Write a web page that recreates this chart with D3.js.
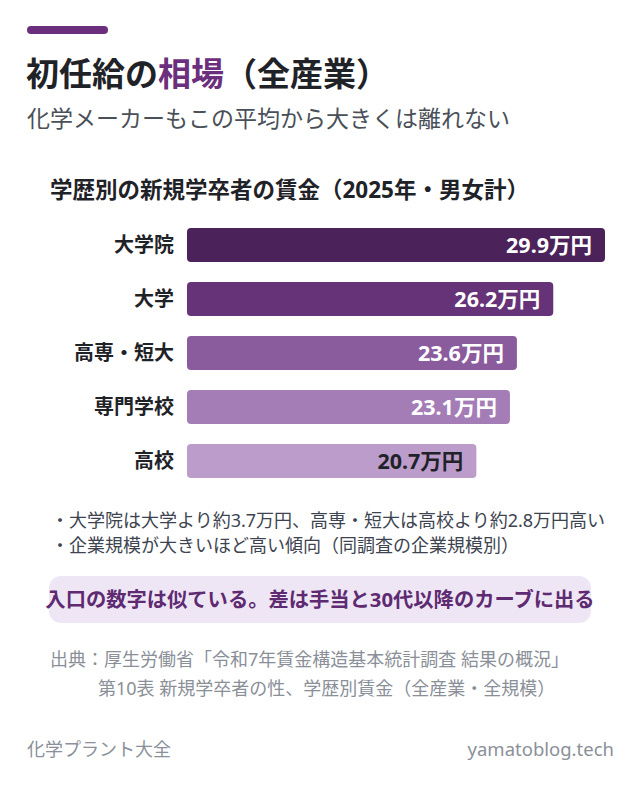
<!DOCTYPE html>
<html>
<head>
<meta charset="utf-8">
<script src="https://cdn.jsdelivr.net/npm/d3@7"></script>
<style>
  body { margin: 0; background: #fff; }
  svg { display: block; font-family: "Noto Sans", "Noto Sans CJK JP", sans-serif; }
</style>
</head>
<body>
<div id="chart-area"></div>
<script>
// data
const categories = ["大学院", "大学", "高専・短大", "専門学校", "高校"]
const wages = [29.9, 26.2, 23.6, 23.1, 20.7]
const barColors = ["#4b2259", "#673378", "#8a5c9e", "#a47db7", "#bc9ccb"]
const notes = [
    "・大学院は大学より約3.7万円、高専・短大は高校より約2.8万円高い",
    "・企業規模が大きいほど高い傾向（同調査の企業規模別）"
]
const sourceLines = [
    "出典：厚生労働省「令和7年賃金構造基本統計調査 結果の概況」",
    "第10表 新規学卒者の性、学歴別賃金（全産業・全規模）"
]

const W = 640, H = 790
const svg = d3.select("#chart-area").append("svg")
    .attr("width", W)
    .attr("height", H)

// accent bar + headings
svg.append("rect")
    .attr("x", 27).attr("y", 26)
    .attr("width", 81).attr("height", 8)
    .attr("rx", 4)
    .attr("fill", "#6b2f7d")

const title = svg.append("text")
    .attr("x", 26).attr("y", 86)
    .attr("font-size", 33)
    .attr("font-weight", 700)
    .attr("fill", "#1f2328")
title.append("tspan").text("初任給の")
title.append("tspan").attr("fill", "#6b2f7d").text("相場")
title.append("tspan").text("（全産業）")

svg.append("text")
    .attr("x", 27).attr("y", 127)
    .attr("font-size", 23)
    .attr("fill", "#4a5058")
    .text("化学メーカーもこの平均から大きくは離れない")

svg.append("text")
    .attr("x", 50).attr("y", 198)
    .attr("font-size", 22.5)
    .attr("font-weight", 700)
    .attr("fill", "#1f2328")
    .text("学歴別の新規学卒者の賃金（2025年・男女計）")

// bars
const x = d3.scaleLinear()
    .domain([0, 29.9])
    .range([187, 605])

const y = d3.scaleBand()
    .domain(categories)
    .range([228, 478])
    .paddingInner(20 / 54)
    .paddingOuter(0)

const rows = svg.append("g").selectAll("g")
    .data(categories)
    .join("g")

rows.append("rect")
    .attr("x", x(0))
    .attr("y", d => y(d))
    .attr("width", (d, i) => x(wages[i]) - x(0))
    .attr("height", y.bandwidth())
    .attr("rx", 4)
    .attr("fill", (d, i) => barColors[i])

rows.append("text")
    .attr("x", 174)
    .attr("y", d => y(d) + y.bandwidth() / 2)
    .attr("dy", "0.36em")
    .attr("text-anchor", "end")
    .attr("font-size", 20)
    .attr("font-weight", 700)
    .attr("fill", "#1f2328")
    .text(d => d)

rows.append("text")
    .attr("x", (d, i) => x(wages[i]) - 13)
    .attr("y", d => y(d) + y.bandwidth() / 2)
    .attr("dy", "0.36em")
    .attr("text-anchor", "end")
    .attr("font-size", 21.5)
    .attr("font-weight", 700)
    .attr("fill", (d, i) => i === categories.length - 1 ? "#1f2328" : "#fff")
    .text((d, i) => `${wages[i].toFixed(1)}万円`)

// notes
svg.append("g").selectAll("text")
    .data(notes)
    .join("text")
    .attr("x", 51)
    .attr("y", (d, i) => 527 + i * 25)
    .attr("font-size", 18)
    .attr("fill", "#3d4450")
    .text(d => d)

// callout
svg.append("rect")
    .attr("x", 49).attr("y", 576)
    .attr("width", 542).attr("height", 47)
    .attr("rx", 12)
    .attr("fill", "#efe6f5")

svg.append("text")
    .attr("x", 320).attr("y", 607)
    .attr("text-anchor", "middle")
    .attr("font-size", 20.3)
    .attr("font-weight", 700)
    .attr("fill", "#5e2a72")
    .text("入口の数字は似ている。差は手当と30代以降のカーブに出る")

// source
svg.append("g").selectAll("text")
    .data(sourceLines)
    .join("text")
    .attr("x", (d, i) => i === 0 ? 50 : 98)
    .attr("y", (d, i) => 666 + i * 29)
    .attr("font-size", 18)
    .attr("fill", "#8a8f98")
    .text(d => d)

// footer
svg.append("text")
    .attr("x", 27).attr("y", 756)
    .attr("font-size", 18)
    .attr("fill", "#8a9099")
    .text("化学プラント大全")

svg.append("text")
    .attr("x", 614).attr("y", 756)
    .attr("text-anchor", "end")
    .attr("font-size", 18.5)
    .attr("fill", "#8a9099")
    .text("yamatoblog.tech")
</script>
</body>
</html>
